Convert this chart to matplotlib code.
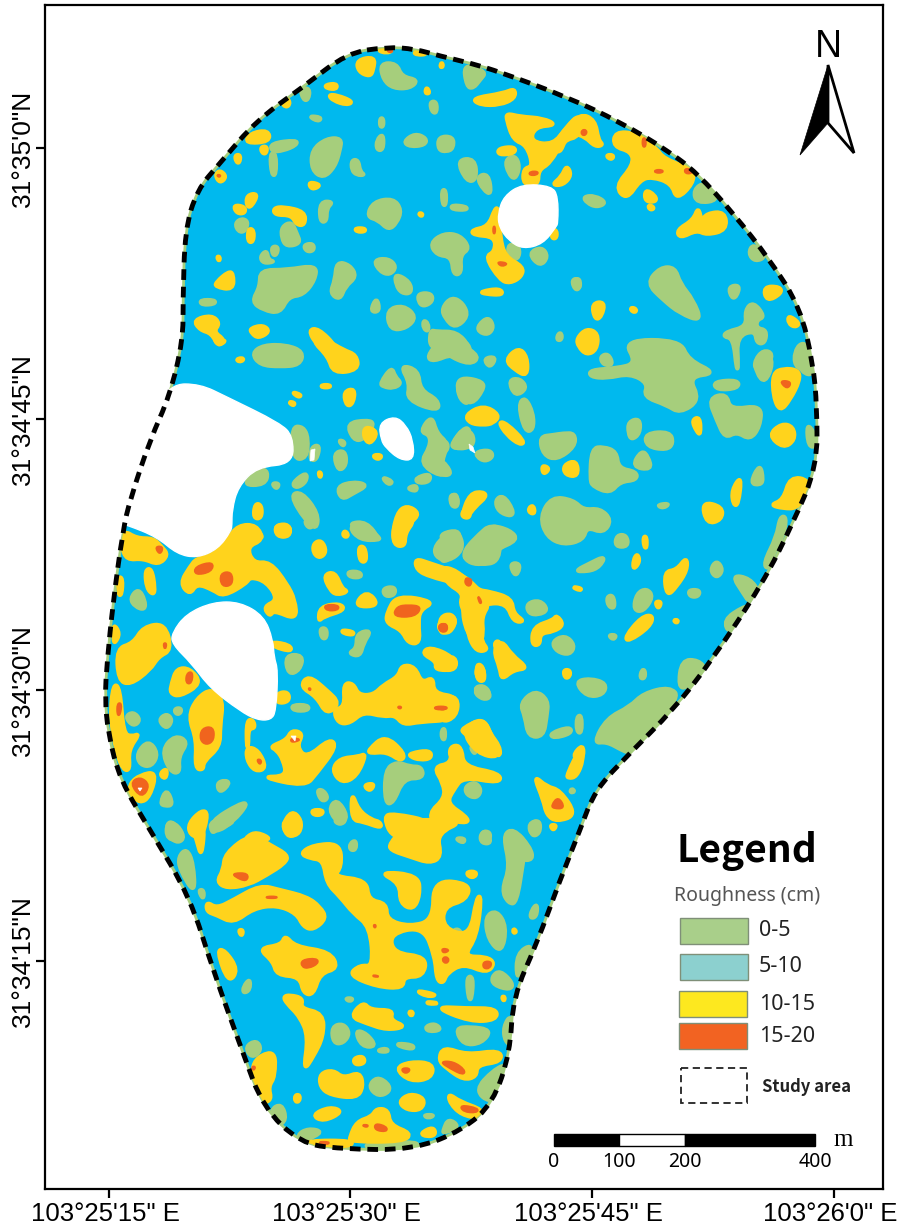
import matplotlib
matplotlib.use("Agg")
import matplotlib.pyplot as plt
from matplotlib.collections import PathCollection
from matplotlib.patches import PathPatch, Rectangle, Polygon
from matplotlib.path import Path
from matplotlib.transforms import ScaledTranslation

# map coordinates are image pixels
study_area = [(387,47),(415,49),(440,56),(470,63),(500,72),(567,97),(620,122),(667,150),(697,173),(733,213),
    (770,260),(800,307),(813,363),(817,407),(817,467),(793,523),(763,583),(710,663),(673,710),(630,753),
    (595,790),(580,830),(560,880),(537,943),(513,997),(510,1053),(493,1103),(463,1130),(413,1150),(340,1149),
    (300,1143),(263,1107),(243,1053),(213,970),(190,897),(150,830),(120,780),(108,733),(105,697),(107,663),
    (113,603),(123,530),(130,500),(150,440),(170,395),(183,340),(183,300),(185,230),(197,190),(220,163),
    (257,120),(303,87),(347,53)]

holes = [
    [(522,184),(552,186),(558,197),(558,223),(556,227),(543,244),(523,249),(509,241),(499,227),(498,213),(504,196)],
    [(200,384),(227,397),(280,423),(293,436),(293,464),(257,467),(238,487),(232,510),(232,525),(231,531),(218,549),
     (197,558),(177,554),(157,537),(127,525),(110,520),(150,420),(170,384)],
    [(172,633),(186,614),(213,602),(240,602),(264,616),(273,640),(274,657),(278,670),(276,711),(271,720),(257,720),
     (240,711),(210,688),(192,664),(172,644)],
    [(379,423),(395,416),(406,425),(413,440),(414,460),(400,460),(386,448),(381,440)],
]
specks = [
    [(311,450),(315,449),(314,460),(310,461)],
    [(469,444),(473,447),(475,453),(470,450)],
    [(291,736),(296,736),(295,741)],
    [(138,788),(142,788),(140,791)],
]

top_left_origin = (180, 30)
top_left_green = [
    [(600,100),(650,100),(665,140),(715,150),(690,175),(640,175),(610,150)],
    [(850,100),(920,125),(900,150),(880,175),(860,170)],
    [(385,258),(425,262),(415,275)],
    [(360,175),(390,175),(385,210),(370,210)],
    [(272,340),(350,330),(350,345),(310,362),(275,365)],
    [(270,370),(288,370),(288,435),(275,435)],
    [(395,360),(440,325),(485,325),(480,360),(465,410),(430,445),(395,420)],
    [(515,390),(535,390),(540,425),(555,435),(530,435),(515,420)],
    [(600,265),(610,265),(610,290),(600,290)],
    [(590,330),(610,310),(610,360),(590,360)],
    [(670,335),(705,310),(740,325),(735,345),(690,350)],
    [(775,320),(820,320),(820,355),(800,365),(775,360)],
    [(750,215),(770,215),(770,250),(755,245)],
    [(830,390),(885,385),(890,450),(860,455)],
    [(890,440),(925,430),(935,495),(910,480)],
    [(785,480),(798,480),(798,525),(788,525)],
    [(815,525),(860,530),(860,540),(815,538)],
    [(975,390),(1005,375),(1020,410),(1005,450),(985,430)],
    [(560,560),(580,515),(640,505),(665,540),(650,580),(625,600),(595,570)],
    [(420,515),(460,515),(440,535),(440,575),(420,575)],
    [(165,580),(185,565),(205,575),(195,605),(175,605)],
    [(305,590),(335,575),(350,610),(362,640),(320,650),(305,625)],
    [(370,645),(400,640),(402,662),(380,665)],
    [(275,650),(295,650),(290,675),(278,675)],
    [(240,680),(260,660),(265,690),(285,695),(250,700)],
    [(240,720),(320,720),(410,705),(405,750),(370,795),(325,800),(300,850),(250,840),(215,815),(240,770)],
    [(470,695),(510,705),(530,740),(495,770),(480,810),(450,790),(465,750)],
    [(580,690),(625,685),(650,710),(630,735),(600,725)],
    [(645,730),(690,755),(695,790),(665,790),(648,765)],
    [(750,640),(790,610),(840,615),(870,655),(840,675),(845,730),(820,735),(815,680),(770,675)],
    [(715,790),(755,790),(758,815),(730,830),(715,815)],
    [(620,840),(670,825),(710,860),(680,895),(630,900)],
    [(785,835),(815,800),(850,820),(865,860),(825,895),(795,865)],
    [(895,885),(925,860),(942,890),(925,915),(895,905)],
    [(570,845),(590,800),(600,845)],
    [(60,810),(105,810),(105,822),(65,825)],
    [(750,900),(770,905),(830,905),(870,950),(840,960),(750,960)],
    [(985,640),(1020,650),(1015,690),(985,680)],
    [(1045,670),(1085,650),(1105,680),(1080,710)],
    [(1180,750),(1200,745),(1200,780)],
    [(1135,910),(1145,910),(1145,930),(1130,930)],
    [(730,870),(745,880),(745,905),(730,895)],
]
top_left_yellow = [
    [(530,90),(585,80),(580,120),(570,140),(535,125)],
    [(435,165),(470,160),(470,178),(440,175)],
    [(445,195),(470,195),(520,215),(500,225),(460,212)],
    [(305,215),(325,205),(330,225),(315,232)],
    [(740,170),(750,190),(735,190)],
    [(875,205),(970,190),(1005,175),(1005,205),(960,225),(900,225)],
    [(980,250),(1020,260),(1090,265),(1130,285),(1065,290),(1050,335),(1120,345),(1160,290),(1200,250),(1200,320),
     (1150,330),(1110,400),(1075,420),(1075,465),(1030,465),(1030,415),(1060,410),(1040,345),(1000,330),(980,270)],
    [(955,355),(1005,350),(1005,370),(955,375)],
    [(1160,405),(1175,435),(1150,465),(1115,465),(1145,440)],
    [(210,310),(265,300),(270,335),(195,340)],
    [(243,350),(262,350),(258,372),(245,368)],
    [(165,375),(182,375),(178,400),(168,395)],
    [(105,435),(120,420),(140,440),(120,460)],
    [(385,455),(425,465),(395,480)],
    [(200,495),(235,490),(215,530),(200,530)],
    [(160,525),(195,530),(195,550),(170,550)],
    [(280,535),(310,530),(375,545),(375,585),(350,585),(335,555),(285,555)],
    [(205,595),(222,600),(220,637),(203,635)],
    [(525,595),(555,595),(555,605),(530,605)],
    [(715,550),(728,550),(725,560)],
    [(875,600),(925,590),(945,535),(955,535),(960,620),(975,680),(1030,710),(1025,740),(990,760),(960,750),(915,680),
     (945,665),(945,620),(880,615)],
    [(1115,600),(1130,600),(1130,625),(1115,625)],
    [(900,785),(960,775),(970,795),(915,792)],
    [(110,755),(145,725),(160,730),(160,780),(105,770)],
    [(40,870),(95,855),(120,880),(100,905),(135,930),(115,950),(95,910),(60,900)],
    [(210,895),(250,885),(270,905),(235,925),(215,910)],
    [(385,900),(415,895),(470,950),(450,960),(410,945)],
    [(785,95),(790,110),(780,112)],
    [(110,680),(120,680),(118,695)],
    [(590,60),(640,60),(620,70)],
    [(700,65),(745,72),(710,75)],
]
top_left_red = [
    [(1050,425),(1075,425),(1070,435),(1048,435)],
    [(950,695),(985,700),(965,710)],
    [(940,590),(945,590),(945,610),(940,610)],
    [(110,435),(122,435),(118,442)],
    [(620,60),(640,62),(630,68)],
]

top_right_origin = (480, 30)
top_right_green = [
    [(310,500),(345,497),(380,518),(350,532),(320,518)],
    [(640,480),(675,455),(720,510),(650,520)],
    [(820,640),(860,680),(825,695),(805,670)],
    [(500,760),(540,712),(585,712),(600,760),(640,810),(665,875),(600,850),(550,810)],
    [(745,770),(780,765),(770,800),(755,805)],
    [(275,750),(295,745),(300,775),(285,780)],
    [(795,840),(820,815),(855,860),(830,870),(830,895),(860,900),(855,940),(830,940),(825,900),(770,920),(775,1010),
     (770,1020),(760,925),(730,920),(740,905),(800,890)],
    [(825,990),(850,960),(880,970),(860,1020),(825,1020)],
    [(940,970),(975,930),(1000,1010),(950,1020)],
]
top_right_yellow = [
    [(245,310),(300,250),(345,270),(355,330),(370,345),(345,350),(315,320),(280,310),(255,330),(240,370),(215,355)],
    [(380,375),(400,375),(398,387),(385,385)],
    [(405,305),(470,310),(530,355),(550,385),(640,420),(640,460),(590,510),(575,460),(515,440),(480,450),(440,510),
     (405,470),(460,405),(455,365),(400,350)],
    [(495,478),(525,495),(530,515),(495,515)],
    [(505,525),(520,530),(520,538),(508,538)],
    [(590,600),(640,570),(655,530),(665,575),(680,550),(735,545),(740,600),(680,615),(650,600),(600,625)],
    [(850,770),(900,770),(905,790),(860,815)],
    [(925,855),(960,880),(945,892),(925,880)],
    [(290,925),(320,895),(355,910),(350,960),(320,975),(295,950)],
    [(335,820),(375,815),(365,860),(345,870)],
    [(455,832),(470,838),(465,848),(452,840)],
]
top_right_red = [
    [(305,300),(320,300),(318,315),(305,315)],
    [(488,325),(497,325),(497,350),(488,350)],
    [(525,420),(548,420),(548,428),(525,428)],
    [(615,415),(640,420),(635,430),(615,430)],
]

right_origin = (440, 340)
right_green = [
    [(550,0),(720,0),(745,60),(830,100),(745,110),(780,180),(720,220),(680,195),(610,170),(625,130),(570,100),(500,115),
     (450,110),(450,90),(530,85),(590,70)],
    [(50,130),(70,112),(130,125),(130,150),(95,195),(60,170)],
    [(205,120),(240,115),(262,145),(225,170)],
    [(235,195),(255,170),(280,220),(280,270),(255,275)],
    [(298,290),(340,285),(370,280),(405,280),(405,320),(350,360),(310,345)],
    [(455,325),(490,320),(530,335),(535,385),(590,395),(590,420),(540,425),(510,460),(460,440),(450,420)],
    [(615,280),(690,275),(700,310),(680,330),(620,320)],
    [(565,245),(600,235),(600,280),(575,300),(565,280)],
    [(575,380),(605,330),(625,350),(635,390)],
    [(805,175),(860,160),(870,210),(965,195),(960,260),(930,300),(890,275),(855,295),(830,240)],
    [(820,125),(895,120),(895,145),(830,150)],
    [(945,60),(980,30),(1000,70),(975,130),(950,100)],
    [(1060,30),(1100,0),(1125,105),(1085,100)],
    [(1100,250),(1125,280),(1130,320),(1105,320)],
    [(480,50),(505,40),(520,75),(490,75)],
    [(0,10),(60,10),(120,50),(90,75),(20,45)],
    [(130,55),(170,50),(150,85)],
    [(35,320),(65,265),(100,280),(100,320),(55,325)],
    [(110,335),(150,330),(160,350),(135,365),(110,350)],
    [(0,295),(25,310),(20,335),(0,340)],
    [(0,360),(20,375),(35,405),(0,405)],
    [(30,465),(50,465),(55,495),(35,495)],
    [(165,480),(190,465),(220,510),(215,530),(175,515)],
    [(300,530),(335,470),(400,480),(430,510),(480,505),(515,540),(490,580),(440,560),(430,600),(370,615),(320,590)],
    [(0,600),(30,570),(60,590),(60,630),(20,665),(0,660)],
    [(72,630),(120,580),(150,555),(210,570),(235,600),(165,630),(155,665),(110,675),(75,660)],
    [(530,585),(560,585),(565,620),(525,620)],
    [(410,690),(450,670),(490,650),(490,665),(465,690),(420,695)],
    [(210,670),(240,670),(235,700),(222,705)],
    [(650,495),(690,490),(670,505)],
    [(930,430),(960,370),(970,420),(960,435)],
    [(590,760),(620,745),(640,770),(610,815),(580,810)],
    [(260,790),(300,780),(325,810),(295,825),(265,820)],
    [(335,905),(375,885),(405,915),(390,945),(350,935)],
    [(810,690),(830,660),(850,690),(830,715)],
    [(875,705),(930,715),(960,760),(930,790),(910,760)],
    [(850,840),(910,800),(930,800),(870,885)],
    [(970,670),(1010,590),(1020,530),(1040,530),(1030,590),(1000,640),(985,690)],
    [(715,1040),(725,960),(775,960),(800,990),(740,1045)],
    [(460,1210),(500,1135),(570,1100),(610,1060),(690,1040),(720,1075),(570,1240),(545,1230),(500,1205)],
    [(745,750),(780,750),(775,770),(750,770)],
    [(240,1090),(285,1050),(325,1080),(320,1130),(310,1190),(265,1190),(255,1130)],
    [(330,1180),(390,1160),(395,1180),(340,1195)],
    [(410,1130),(425,1125),(425,1180),(410,1175)],
    [(100,1045),(130,1035),(152,1060),(130,1080)],
    [(405,1025),(450,1015),(500,1030),(490,1065),(440,1070)],
    [(500,770),(520,765),(525,805),(505,800)],
    [(605,990),(615,990),(615,1015),(600,1015)],
    [(505,885),(530,885),(520,900)],
]
right_yellow = [
    [(195,60),(235,22),(262,50),(262,110),(225,90)],
    [(410,0),(470,0),(450,40),(430,30)],
    [(75,225),(130,195),(180,225),(160,250),(130,255),(90,250)],
    [(175,245),(200,250),(255,305),(240,315),(200,285)],
    [(305,375),(330,385),(310,405)],
    [(370,375),(410,360),(415,410),(375,405)],
    [(90,460),(130,455),(140,470),(105,500),(80,535),(65,525)],
    [(265,505),(280,495),(285,520),(270,520)],
    [(998,100),(1030,85),(1075,90),(1080,120),(1050,180),(1020,215),(1000,170)],
    [(985,285),(1025,250),(1060,260),(1065,300),(1030,325)],
    [(1050,410),(1110,420),(1090,470),(1070,505),(1030,505),(990,495),(1030,480)],
    [(755,240),(780,230),(782,285),(770,275)],
    [(875,450),(905,405),(895,495),(880,495)],
    [(785,485),(848,500),(845,540),(800,552)],
    [(610,590),(620,590),(620,625),(612,620)],
    [(580,660),(592,640),(600,665),(580,690)],
    [(672,695),(710,690),(740,650),(742,690),(710,740),(680,770)],
    [(645,785),(665,785),(655,808)],
    [(555,890),(605,830),(640,825),(630,860),(565,905)],
    [(700,840),(715,840),(710,850)],
    [(395,740),(425,745),(420,752)],
    [(0,680),(50,690),(110,750),(150,755),(215,775),(220,820),(255,845),(220,845),(200,790),(135,790),(100,820),
     (120,860),(125,905),(145,930),(110,935),(85,890),(80,830),(60,790),(70,760),(20,730)],
    [(0,830),(35,820),(50,850),(15,880),(0,875)],
    [(280,860),(340,840),(350,825),(372,855),(340,875),(300,880),(300,915),(275,915)],
    [(160,930),(185,900),(215,945),(265,985),(220,990),(185,1020),(180,985)],
    [(105,1000),(120,970),(135,1000),(125,1025)],
    [(370,990),(390,990),(390,1010),(375,1015)],
    [(0,950),(48,950),(48,990),(0,990)],
    [(0,1070),(55,1070),(50,1130),(0,1150)],
    [(65,1170),(130,1130),(160,1200),(180,1255),(110,1240)],
    [(30,1220),(60,1215),(65,1255),(30,1255)],
    [(395,1250),(430,1210),(430,1260)],
]
right_red = [
    [(75,720),(95,715),(92,738),(78,735)],
    [(112,765),(125,785),(120,792)],
    [(0,850),(22,855),(20,875),(0,875)],
    [(1018,122),(1055,125),(1042,148)],
    [(0,1103),(15,1103),(15,1108),(0,1108)],
]

middle_origin = (180, 340)
middle_green = [
    [(215,40),(250,15),(320,15),(370,35),(360,75),(300,80),(240,75)],
    [(600,130),(635,80),(645,110),(665,130),(640,145),(610,140)],
    [(660,75),(715,90),(720,150),(775,180),(775,215),(680,180),(690,130)],
    [(740,50),(780,0),(870,0),(870,75),(820,40),(760,65)],
    [(830,130),(870,110),(870,195),(840,180)],
    [(335,260),(370,260),(385,295),(380,355),(340,358)],
    [(395,320),(420,315),(410,360),(390,360)],
    [(500,250),(560,240),(585,250),(550,300),(520,300)],
    [(460,340),(495,330),(500,375),(475,395)],
    [(720,275),(755,225),(770,280),(805,310),(780,380),(815,395),(780,410),(720,370),(750,320),(750,285)],
    [(815,310),(850,265),(870,265),(870,325),(820,325)],
    [(185,435),(240,385),(265,395),(255,435)],
    [(275,430),(298,430),(290,448)],
    [(335,430),(380,395),(380,425),(350,445)],
    [(330,465),(365,455),(415,520),(410,570),(375,540)],
    [(470,440),(520,425),(565,435),(520,460),(485,480)],
    [(705,415),(750,400),(750,425),(715,430)],
    [(680,445),(710,435),(710,455)],
    [(810,470),(830,460),(835,500),(815,500)],
    [(505,560),(550,545),(595,590),(600,600),(540,600)],
    [(785,580),(835,570),(840,600),(785,600)],
    [(605,410),(640,425),(625,435)],
    [(475,300),(495,305),(490,320)],
]
middle_yellow = [
    [(395,0),(440,0),(490,30),(530,45),(535,90),(460,100),(445,50)],
    [(335,155),(365,165),(355,172)],
    [(325,185),(345,188),(340,198)],
    [(490,155),(525,145),(520,190),(500,200)],
    [(175,55),(192,55),(185,65),(170,62)],
    [(100,0),(140,0),(120,15)],
    [(425,135),(450,135),(450,142),(425,142)],
    [(555,258),(595,275),(570,315),(550,290)],
    [(580,345),(605,345),(600,357),(585,355)],
    [(415,395),(425,400),(420,415)],
    [(225,490),(245,495),(245,535),(220,535)],
    [(175,565),(205,565),(245,580),(245,600),(170,600)],
    [(280,560),(320,550),(335,575),(305,595)],
    [(650,520),(680,495),(720,520),(690,550),(665,600),(635,600)],
    [(850,510),(870,500),(870,535),(845,530)],
    [(490,575),(500,575),(505,590),(490,590)],
]

lower_left_origin = (100, 520)
lower_left_green = [
    [(90,235),(115,205),(135,240),(135,270),(105,260)],
    [(75,590),(100,575),(122,600),(100,620)],
    [(175,600),(200,580),(218,600),(200,628)],
    [(225,565),(245,565),(240,583),(225,580)],
    [(110,700),(145,660),(175,700),(155,740),(120,735)],
    [(185,690),(225,645),(265,665),(235,710),(240,760),(210,755)],
    [(180,850),(200,805),(220,855),(195,858)],
    [(330,905),(420,850),(445,850),(400,905),(345,940)],
    [(350,790),(375,780),(390,790),(360,820)],
    [(200,905),(235,915),(255,960),(200,960)],
    [(650,810),(670,810),(685,835),(665,845)],
    [(685,870),(710,835),(745,890),(720,915)],
    [(555,405),(610,405),(600,450),(565,465)],
    [(575,555),(625,555),(625,572),(580,572)],
    [(770,340),(815,330),(790,370),(780,410),(745,400),(770,385)],
    [(660,325),(680,325),(680,355),(665,355)],
    [(745,10),(800,5),(840,60),(780,30)],
    [(610,0),(650,0),(630,30)],
    [(742,155),(780,155),(785,172),(750,172)],
    [(848,205),(885,200),(885,225),(855,230)],
    [(1005,75),(1050,35),(1080,40),(1090,90),(1045,125),(1005,110)],
    [(1090,105),(1140,65),(1170,20),(1200,20),(1200,125),(1140,135),(1100,120)],
    [(1120,515),(1150,495),(1175,530),(1150,540)],
    [(855,750),(890,725),(930,740),(965,740),(970,775),(910,775),(880,850),(855,850)],
    [(1095,800),(1125,785),(1145,810),(1130,835),(1100,825)],
    [(1025,630),(1035,625),(1035,660),(1025,655)],
    [(1110,680),(1130,680),(1125,705)],
    [(1145,935),(1170,935),(1170,960),(1145,960)],
]
lower_left_yellow = [
    [(70,30),(110,55),(160,55),(185,80),(205,105),(175,135),(130,115),(80,120),(65,80)],
    [(135,150),(155,145),(165,205),(160,225),(140,205)],
    [(55,170),(68,175),(65,225),(55,225)],
    [(240,190),(270,140),(290,115),(340,105),(380,60),(415,15),(470,15),(490,60),(440,80),(460,130),(510,125),(560,190),
     (585,240),(590,300),(520,270),(510,290),(490,260),(535,240),(500,185),(450,170),(440,190),(370,230),(340,210),
     (290,190),(270,225)],
    [(525,15),(570,15),(570,50),(530,50)],
    [(640,70),(665,60),(680,95),(660,115),(640,100)],
    [(880,20),(900,0),(945,0),(915,40),(915,80),(880,75)],
    [(670,165),(705,155),(725,205),(745,215),(710,225),(690,210)],
    [(775,80),(795,80),(800,125),(780,125)],
    [(660,260),(720,250),(735,270),(670,290),(655,305)],
    [(760,260),(800,210),(840,258)],
    [(860,280),(890,225),(1005,245),(960,270),(955,310),(960,370),(925,370),(905,330),(860,310)],
    [(945,115),(990,130),(1080,160),(1130,200),(1170,250),(1145,290),(1150,340),(1140,375),(1100,340),(1085,260),
     (1110,225),(1070,190),(990,170),(950,150)],
    [(1015,310),(1045,280),(1070,300),(1050,340),(1020,335)],
    [(725,330),(760,335),(760,345),(730,340)],
    [(1130,430),(1150,440),(1155,485),(1130,480)],
    [(965,400),(990,380),(1060,410),(1065,450),(1005,450),(1010,425)],
    [(1180,370),(1200,360),(1200,410)],
    [(40,310),(60,340),(45,370),(40,360)],
    [(50,385),(100,370),(130,320),(195,310),(215,390),(175,410),(150,450),(90,495),(55,480)],
    [(515,365),(570,375),(575,395),(520,380)],
    [(215,490),(230,445),(270,445),(305,490),(240,530),(210,520)],
    [(265,590),(290,535),(335,505),(370,540),(360,620),(360,680),(310,725),(310,750),(285,745),(290,660)],
    [(530,520),(565,515),(568,545),(530,550)],
    [(600,500),(625,465),(680,510),(720,550),(680,585),(650,530)],
    [(730,490),(760,490),(775,525),(820,525),(850,495),(895,470),(905,435),(945,440),(965,490),(1000,470),(1000,520),
     (1075,530),(1060,600),(960,605),(910,615),(885,585),(850,590),(790,575),(750,610),(715,610),(700,570),(735,560)],
    [(40,490),(60,505),(70,640),(95,650),(120,640),(85,690),(90,750),(70,750),(50,700),(30,590)],
    [(90,790),(120,765),(170,755),(150,830),(120,850),(90,820)],
    [(180,760),(200,745),(200,770),(190,775)],
    [(510,680),(560,660),(575,630),(610,640),(590,680),(620,715),(690,655),(710,680),(650,760),(615,800),(480,770),
     (560,770),(550,720),(530,690)],
    [(440,680),(475,690),(500,745),(465,755),(440,720)],
    [(440,600),(460,600),(465,625),(445,625),(445,680),(440,680)],
    [(695,750),(720,715),(775,710),(800,700),(770,770),(725,790)],
    [(805,690),(855,645),(915,700),(905,725),(860,695),(810,700)],
    [(930,700),(990,690),(995,715),(960,720),(930,710)],
    [(1000,740),(1055,730),(1050,680),(1085,680),(1090,740),(1200,760),(1200,790),(1090,770),(1060,810),(1040,850),
     (1100,890),(1105,910),(1040,900),(1010,930),(985,880),(1035,835),(1030,790)],
    [(1085,625),(1150,595),(1170,640),(1200,680),(1200,715),(1150,675),(1090,640)],
    [(790,795),(825,790),(810,815)],
    [(755,815),(775,870),(815,900),(840,905),(845,925),(790,905),(755,900)],
    [(635,870),(670,870),(665,885),(640,885)],
    [(850,890),(880,880),(1000,905),(1020,960),(880,960)],
    [(545,920),(575,870),(605,900),(600,940),(570,950)],
    [(265,910),(305,870),(325,880),(305,955),(270,945)],
    [(440,950),(470,935),(520,960),(440,960)],
]
lower_left_red = [
    [(285,140),(340,125),(335,155),(285,165)],
    [(360,160),(395,155),(398,195),(365,200)],
    [(165,80),(190,80),(180,105)],
    [(190,370),(200,370),(195,390)],
    [(890,260),(925,255),(965,260),(945,290),(880,290)],
    [(672,255),(715,255),(715,270),(680,272)],
    [(1015,315),(1040,310),(1040,330),(1020,335)],
    [(1095,175),(1110,175),(1110,195),(1100,195)],
    [(1005,560),(1040,560),(1040,568),(1005,568)],
    [(260,460),(278,455),(275,490),(258,490)],
    [(305,625),(340,620),(342,660),(320,675),(300,660)],
    [(90,790),(120,770),(150,795),(125,835)],
    [(470,718),(485,720),(480,735)],
    [(572,655),(605,658),(575,668)],
    [(52,550),(65,550),(60,585),(52,585)],
    [(892,560),(905,560),(900,567)],
    [(625,505),(632,505),(630,512)],
]

bottom_origin = (100, 820)
bottom_green = [
    [(200,10),(220,5),(255,50),(235,70),(205,50)],
    [(235,110),(260,85),(280,130),(285,225),(240,150)],
    [(295,210),(312,210),(310,240)],
    [(330,0),(415,0),(350,30),(335,40)],
    [(700,0),(740,0),(720,15)],
    [(750,70),(768,60),(768,90),(750,90)],
    [(1065,55),(1095,55),(1090,70)],
    [(1140,45),(1160,30),(1175,70),(1145,70)],
    [(1210,50),(1230,30),(1280,60),(1270,120),(1250,250),(1225,250),(1205,210),(1230,140)],
    [(1290,10),(1320,0),(1320,40),(1295,50)],
    [(1295,270),(1312,250),(1310,290),(1290,295)],
    [(1155,290),(1190,270),(1220,320),(1205,400),(1165,360)],
    [(1055,335),(1075,325),(1090,350),(1070,370)],
    [(1100,470),(1120,470),(1115,540),(1105,535)],
    [(1175,470),(1200,450),(1240,490),(1230,510),(1180,495)],
    [(1250,400),(1300,370),(1270,440),(1250,480)],
    [(430,500),(450,475),(450,510),(430,520)],
    [(695,620),(730,610),(750,640),(730,670),(700,670)],
    [(765,630),(800,640),(830,680),(785,680)],
    [(975,620),(1005,610),(1025,630),(985,635)],
    [(1065,625),(1110,620),(1175,630),(1145,670),(1090,675)],
    [(1210,620),(1235,580),(1240,680),(1215,665)],
    [(890,670),(940,675),(940,688),(900,680)],
    [(835,690),(860,685),(865,695),(840,695)],
    [(435,680),(470,660),(485,690),(455,715)],
    [(805,800),(830,770),(865,790),(870,815),(835,830)],
    [(1125,810),(1180,750),(1225,730),(1205,810),(1170,850)],
    [(510,870),(545,850),(560,900),(530,920)],
    [(590,945),(625,925),(670,935),(620,960),(610,975)],
    [(970,885),(1005,885),(985,895)],
    [(1030,930),(1045,895),(1080,920),(1030,940)],
    [(735,535),(760,535),(750,545)],
    [(800,970),(960,965),(940,985),(800,985)],
]
bottom_yellow = [
    [(375,100),(455,40),(510,75),(565,105),(555,130),(500,165),(445,195),(380,205),(350,185),(370,150)],
    [(320,245),(350,265),(400,240),(480,195),(540,210),(620,230),(660,260),(680,295),(640,330),(610,320),(590,280),
     (530,255),(460,265),(400,310),(350,285),(320,275)],
    [(415,330),(430,330),(425,350)],
    [(545,0),(600,0),(590,45),(560,50)],
    [(270,0),(315,0),(305,115),(290,60)],
    [(600,100),(640,75),(720,70),(725,140),(700,170),(800,180),(805,240),(860,250),(860,300),(930,320),(1000,300),
     (1000,180),(1110,190),(1100,240),(1030,260),(1030,325),(1110,350),(1130,230),(1145,230),(1130,350),(1090,410),
     (1160,410),(1185,430),(1160,460),(1090,430),(1040,460),(1030,490),(1010,480),(1005,410),(970,320),(870,340),
     (880,400),(980,410),(970,470),(910,470),(910,505),(830,500),(745,465),(780,435),(820,440),(810,320),(760,280),
     (720,230),(680,190),(670,120),(630,115)],
    [(835,155),(955,165),(960,225),(940,270),(900,250),(900,190)],
    [(870,70),(905,30),(880,0),(1100,0),(1010,40),(1025,110),(990,130),(930,110),(870,90)],
    [(475,385),(545,375),(555,345),(585,380),(690,395),(715,445),(660,460),(640,525),(610,520),(600,470),(530,465),
     (520,425)],
    [(350,390),(375,390),(415,450),(385,490)],
    [(550,530),(570,525),(610,535),(600,565),(670,580),(670,650),(640,710),(610,755),(625,650),(600,590),(560,550)],
    [(750,590),(790,545),(810,570),(880,570),(870,600),(920,620),(860,630),(800,610)],
    [(945,510),(1015,525),(980,530)],
    [(980,545),(1020,550),(985,552)],
    [(1000,560),(1100,565),(1190,565),(1190,600),(1110,605)],
    [(925,575),(940,575),(935,590)],
    [(1015,720),(1030,680),(1100,705),(1200,690),(1205,725),(1130,735),(1130,770),(1090,780),(1040,745)],
    [(885,745),(930,725),(1000,730),(995,775),(930,785)],
    [(760,715),(790,708),(795,730),(765,735)],
    [(445,730),(525,685),(525,770),(505,800),(515,840),(485,850)],
    [(660,760),(700,750),(730,775),(780,755),(790,800),(770,835),(690,825),(660,800)],
    [(895,845),(930,820),(975,835),(965,870),(920,870)],
    [(635,885),(690,860),(730,875),(670,905)],
    [(1045,820),(1080,845),(1150,870),(1140,895),(1085,885),(1050,850)],
    [(750,950),(770,905),(815,890),(830,865),(865,870),(870,915),(935,940),(910,965),(750,965)],
    [(960,940),(1000,920),(1008,945),(980,950)],
    [(585,825),(600,825),(598,845),(585,845)],
    [(1100,155),(1130,155),(1125,172),(1105,170)],
    [(1240,325),(1250,335),(1240,340)],
    [(1205,530),(1215,530),(1212,545)],
    [(620,962),(760,962),(750,980),(630,980)],
]
bottom_red = [
    [(400,160),(445,160),(440,185),(405,170)],
    [(500,230),(530,230),(530,234),(500,234)],
    [(605,420),(650,415),(655,430),(625,445),(605,440)],
    [(1025,385),(1050,390),(1030,400)],
    [(1028,412),(1045,412),(1045,428),(1030,428)],
    [(1150,425),(1175,425),(1170,445),(1150,445)],
    [(820,465),(840,470),(820,470)],
    [(820,315),(828,315),(825,325)],
    [(1020,725),(1060,725),(1095,750),(1090,765),(1050,745)],
    [(905,745),(930,745),(925,758),(910,758)],
    [(1080,855),(1135,865),(1130,878),(1090,875)],
    [(785,915),(805,915),(800,922)],
    [(825,910),(860,920),(860,935),(825,930)],
    [(455,740),(467,740),(460,752)],
    [(650,966),(690,966),(680,974)],
]

# crop of the strip between the lower crops
strip_origin = (100, 740)
strip_green = [
    [(1210,285),(1240,265),(1290,320),(1300,360),(1260,360)],
    [(1285,250),(1320,240),(1295,290)],
    [(1145,275),(1170,300),(1145,310)],
    [(1415,145),(1425,155),(1410,158)],
]
strip_yellow = [
    [(1300,105),(1340,140),(1380,150),(1430,225),(1370,245),(1340,225),(1330,180)],
    [(1400,105),(1445,15),(1450,60),(1430,110),(1405,115)],
    [(1350,255),(1370,255),(1360,272)],
]
strip_red = [[(1355,195),(1375,170),(1395,205),(1360,205)]]

x_ticks = [109, 350, 592, 834]
x_labels = ["103°25'15\" E", "103°25'30\" E", "103°25'45\" E", "103°26'0\" E"]
y_ticks = [148, 419, 690, 961]
y_labels = ["31°35'0\"N", "31°34'45\"N", "31°34'30\"N", "31°34'15\"N"]

legend_labels = ["0-5", "5-10", "10-15", "15-20"]
legend_colors = ["#A9CF8A", "#8CD0CF", "#FDE81F", "#F26322"]
legend_tops = [918, 954, 991, 1023]
legend_lefts = [680, 680, 679, 679]
scale_marks = [0, 100, 200, 400]

BLUE = "#00B9EE"
GREEN = "#A6CE7C"
YELLOW = "#FFD31C"
RED = "#F0641E"


def place(origin, polys):
    return [[(origin[0] + x / 3, origin[1] + y / 3) for x, y in p] for p in polys]


def soft_path(p):
    # closed outline with the read points as bezier control points, so blobs come out round
    verts = [((p[-1][0] + p[0][0]) / 2, (p[-1][1] + p[0][1]) / 2)]
    codes = [Path.MOVETO]
    for i, pt in enumerate(p):
        nxt = p[(i + 1) % len(p)]
        verts += [pt, ((pt[0] + nxt[0]) / 2, (pt[1] + nxt[1]) / 2)]
        codes += [Path.CURVE3, Path.CURVE3]
    verts.append(verts[0])
    codes.append(Path.CLOSEPOLY)
    return Path(verts, codes)


green_polys = (place(top_left_origin, top_left_green) + place(top_right_origin, top_right_green)
               + place(right_origin, right_green) + place(middle_origin, middle_green)
               + place(lower_left_origin, lower_left_green) + place(bottom_origin, bottom_green)
               + place(strip_origin, strip_green))
yellow_polys = (place(top_left_origin, top_left_yellow) + place(top_right_origin, top_right_yellow)
                + place(right_origin, right_yellow) + place(middle_origin, middle_yellow)
                + place(lower_left_origin, lower_left_yellow) + place(bottom_origin, bottom_yellow)
                + place(strip_origin, strip_yellow))
red_polys = (place(top_left_origin, top_left_red) + place(top_right_origin, top_right_red)
             + place(right_origin, right_red) + place(lower_left_origin, lower_left_red)
             + place(bottom_origin, bottom_red) + place(strip_origin, strip_red))

plt.rcParams['font.family'] = ['Liberation Sans', 'DejaVu Sans']

fig = plt.figure(figsize=(9.02, 12.28), dpi=100)
ax = fig.add_axes([45 / 902, 1 - 1189 / 1228, (883 - 45) / 902, (1189 - 5) / 1228])
ax.set_xlim(45, 883)
ax.set_ylim(1189, 5)

# base of the study area
outline = soft_path(study_area)
area = PathPatch(outline, facecolor=BLUE, edgecolor=GREEN, linewidth=2, zorder=1)
ax.add_patch(area)

for polys, color, lw, z in [(green_polys, GREEN, 3.0, 2), (yellow_polys, YELLOW, 3.0, 3), (red_polys, RED, 1.6, 4)]:
    coll = PathCollection([soft_path(p) for p in polys], facecolors=color, edgecolors=color, linewidths=lw,
                          joinstyle='round', offset_transform=None, transform=ax.transData, zorder=z)
    ax.add_collection(coll)
    coll.set_clip_path(area)

for h in holes:
    ax.add_patch(PathPatch(soft_path(h), facecolor="white", edgecolor="white", lw=1, zorder=5))
for h in specks:
    ax.add_patch(Polygon(h, closed=True, facecolor="white", edgecolor="white", lw=0.5, zorder=5))

ax.add_patch(PathPatch(outline, fill=False, edgecolor="black", lw=3.5, linestyle=(0, (2.2, 1.4)), capstyle='butt', zorder=6))

# frame
for s in ax.spines.values():
    s.set_linewidth(1.6)
ax.set_xticks(x_ticks, x_labels)
ax.set_yticks(y_ticks, y_labels)
ax.tick_params(length=6.5, width=1.6)
ax.tick_params(axis='x', labelsize=18.5, pad=3)
ax.tick_params(axis='y', labelsize=19, pad=1)
shift = ScaledTranslation(-3.5 / 100, 0, fig.dpi_scale_trans)
for t in ax.get_xticklabels():
    t.set_transform(t.get_transform() + shift)
for t in ax.get_yticklabels():
    t.set_rotation(90)
    t.set_va('center')

# north arrow
ax.text(828.5, 57, "N", fontsize=27, ha='center', va='baseline')
ax.add_patch(Polygon([(828, 65), (800, 155), (828, 123)], facecolor="black", edgecolor="black", lw=0.5, zorder=7))
ax.add_patch(Polygon([(828, 65), (854, 153), (828, 123)], facecolor="white", edgecolor="black", lw=2, zorder=7))

# legend
ax.text(676, 862, "Legend", fontsize=28, fontweight='bold', family='Noto Sans CJK SC', va='baseline')
ax.text(674, 896, "Roughness (cm)", fontsize=14, family='Noto Sans', color="#555555", va='center')
for lab, c, top, left in zip(legend_labels, legend_colors, legend_tops, legend_lefts):
    ax.add_patch(Rectangle((left, top), 68, 26, facecolor=c, edgecolor="#7f8f78", lw=1, zorder=7))
    ax.text(759, top + 13, lab, fontsize=15.5, family='Noto Sans', color="#222222", va='center')
ax.add_patch(Rectangle((681, 1068), 66, 35, fill=False, edgecolor="#222222", lw=1.3, linestyle=(0, (4, 2.5)), zorder=7))
ax.text(762, 1087, "Study area", fontsize=12, fontweight='bold', family='Noto Sans CJK SC', color="#222222", va='center')

# scale bar
bar_x = 554
bar_k = 261 / 400
for a, b, c in zip(scale_marks[:-1], scale_marks[1:], ["black", "white", "black"]):
    ax.add_patch(Rectangle((bar_x + a * bar_k, 1134), (b - a) * bar_k, 12, facecolor=c, edgecolor="black", lw=1, zorder=7))
for m in scale_marks:
    ax.text(bar_x + m * bar_k, 1162, str(m), fontsize=14, family='Noto Sans', ha='center', va='center')
ax.text(843, 1140, "m", fontsize=18, family='Liberation Serif', ha='center', va='center')

fig.savefig("out.png", dpi=100)
